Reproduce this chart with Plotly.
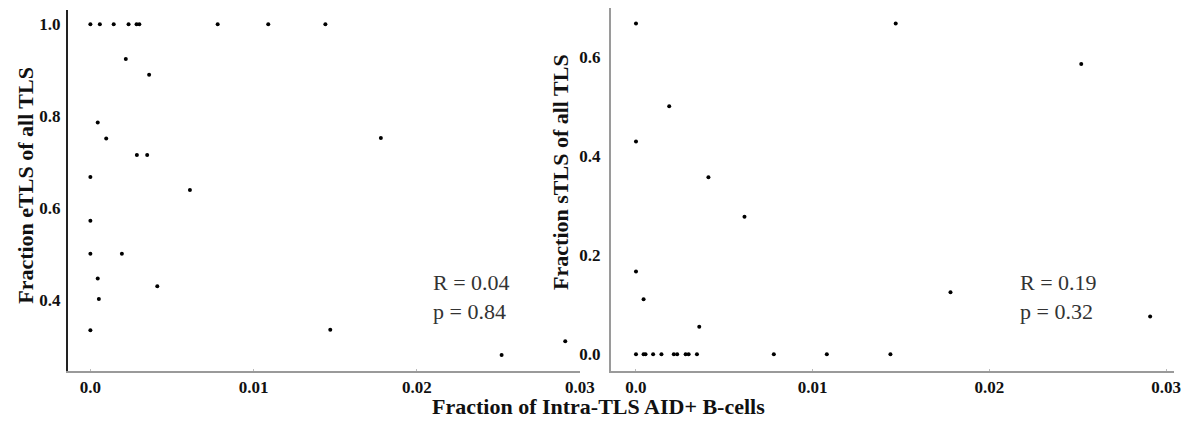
import plotly.graph_objects as go

# Left panel: eTLS fraction vs intra-TLS AID+ B-cell fraction
x_etls = [0, 0.00058, 0.00143, 0.00234, 0.00283, 0.0030, 0.0078, 0.0109, 0.0144,
          0.00217, 0.0036, 0.00045, 0.00097, 0.00285, 0.00348, 0, 0.0061, 0, 0,
          0.00193, 0.00045, 0.0041, 0.00052, 0, 0.0147, 0.0252, 0.0291, 0.0178]
y_etls = [1.0, 1.0, 1.0, 1.0, 1.0, 1.0, 1.0, 1.0, 1.0,
          0.924, 0.890, 0.786, 0.751, 0.715, 0.715, 0.667, 0.639, 0.572, 0.500,
          0.500, 0.446, 0.429, 0.401, 0.333, 0.334, 0.279, 0.309, 0.752]

# Right panel: sTLS fraction
x_stls = [0, 0.00043, 0.00054, 0.00097, 0.00144, 0.00214, 0.00233, 0.00281, 0.00298,
          0.00345, 0.0078, 0.0108, 0.0144,
          0, 0.00188, 0, 0, 0.00043, 0.0041, 0.00358, 0.00614, 0.0147, 0.0252, 0.0178, 0.0291]
y_stls = [0, 0, 0, 0, 0, 0, 0, 0, 0, 0, 0, 0, 0,
          0.667, 0.5, 0.429, 0.167, 0.111, 0.357, 0.0556, 0.277, 0.667, 0.585, 0.125, 0.076]

x_ticks = [0.0, 0.01, 0.02, 0.03]
x_ticklabels = ["0.0", "0.01", "0.02", "0.03"]
y_ticks_e = [0.4, 0.6, 0.8, 1.0]
y_ticklabels_e = ["0.4", "0.6", "0.8", "1.0"]
y_ticks_s = [0.0, 0.2, 0.4, 0.6]
y_ticklabels_s = ["0.0", "0.2", "0.4", "0.6"]

stats_e = "R = 0.04<br>p = 0.84"
stats_s = "R = 0.19<br>p = 0.32"

# page has an 8px body margin; figure fills the rest of the 1197x425 window
OFF = 8
W, H = 1197 - 2 * OFF, 425 - 2 * OFF
def px(x):
    return min(1.0, max(0.0, (x - OFF) / W))
def py(y):
    return min(1.0, max(0.0, 1 - (y - OFF) / H))

fig = go.Figure()
marker = dict(color="black", size=4)
fig.add_trace(go.Scatter(x=x_etls, y=y_etls, mode="markers", marker=marker,
                         xaxis="x", yaxis="y", showlegend=False))
fig.add_trace(go.Scatter(x=x_stls, y=y_stls, mode="markers", marker=marker,
                         xaxis="x2", yaxis="y2", showlegend=False))

tickfont = dict(family="Liberation Serif", size=17, color="#111", weight="bold")
common_x = dict(showgrid=False, zeroline=False, showline=True, linecolor="#9a9a9a",
                linewidth=1.5, ticks="inside", ticklen=2, tickcolor="#bbbbbb",
                tickvals=x_ticks, ticktext=x_ticklabels, tickfont=tickfont,
                ticklabelstandoff=0)

fig.update_layout(
    width=W, height=H,
    margin=dict(l=0, r=0, t=0, b=0),
    plot_bgcolor="white", paper_bgcolor="white",
    xaxis=dict(domain=[px(68.3), px(587.3)], range=[-0.0014, 0.0300],
               anchor="y", **common_x),
    yaxis=dict(domain=[py(370.7), py(10)], range=[0.245, 1.031], anchor="x",
               showgrid=False, zeroline=False, showline=True, linecolor="#222",
               linewidth=1.5, ticks="", tickvals=y_ticks_e, ticktext=y_ticklabels_e,
               tickfont=tickfont, ticklabelstandoff=2),
    xaxis2=dict(domain=[px(618.3), px(1189)], range=[-0.00144, 0.03045],
                anchor="y2", **common_x),
    yaxis2=dict(domain=[py(370.5), py(8)], range=[-0.0327, 0.698], anchor="x2",
                showgrid=False, zeroline=False, showline=True, linecolor="#9a9a9a",
                linewidth=1.5, ticks="", tickvals=y_ticks_s, ticktext=y_ticklabels_s,
                tickfont=tickfont, ticklabelstandoff=5),
)

title_font = dict(family="Liberation Serif", size=22, color="#111", weight="bold")
stat_font = dict(family="Liberation Serif", size=22, color="#333")

fig.add_annotation(text="Fraction eTLS of all TLS", xref="paper", yref="paper",
                   x=px(25), y=py(185), textangle=-90, showarrow=False,
                   font=title_font, xanchor="center", yanchor="middle")
fig.add_annotation(text="Fraction sTLS of all TLS", xref="paper", yref="paper",
                   x=px(567), y=py(172), textangle=-90, showarrow=False,
                   font=title_font, xanchor="center", yanchor="middle")
fig.add_annotation(text="Fraction of Intra-TLS AID+ B-cells", xref="paper", yref="paper",
                   x=px(606), y=py(406), showarrow=False, font=title_font,
                   xanchor="center", yanchor="middle")
fig.add_annotation(text=stats_e, xref="paper", yref="paper", x=px(436), y=py(297),
                   showarrow=False, font=stat_font, xanchor="left", yanchor="middle",
                   align="left")
fig.add_annotation(text=stats_s, xref="paper", yref="paper", x=px(1030.7), y=py(297),
                   showarrow=False, font=stat_font, xanchor="left", yanchor="middle",
                   align="left")

fig.write_html("out.html")
